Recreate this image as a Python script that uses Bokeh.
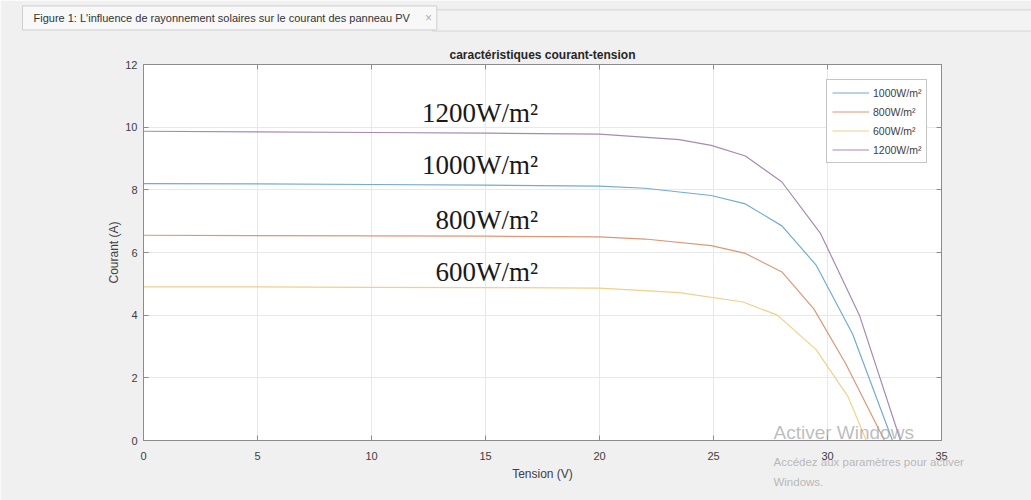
from bokeh.plotting import figure
from bokeh.models import Range1d, LinearAxis, Label
from bokeh.embed import file_html
from bokeh.resources import INLINE

# ---- data ----
series_labels = ["1000W/m²", "800W/m²", "600W/m²", "1200W/m²"]

v_1000 = [0, 5, 10, 15, 20, 22, 24.9, 26.4, 28.0, 29.5, 31.1, 32.85]
i_1000 = [8.20, 8.19, 8.17, 8.15, 8.12, 8.05, 7.82, 7.55, 6.85, 5.60, 3.40, 0.0]

v_800 = [0, 5, 10, 15, 20, 22, 24.9, 26.4, 28.0, 29.4, 30.8, 32.5]
i_800 = [6.55, 6.54, 6.53, 6.52, 6.50, 6.43, 6.22, 5.97, 5.38, 4.20, 2.45, 0.0]

v_600 = [0, 5, 10, 15, 20, 23.5, 26.3, 27.8, 29.5, 30.9, 31.7]
i_600 = [4.90, 4.90, 4.89, 4.88, 4.86, 4.72, 4.42, 4.00, 2.90, 1.40, 0.0]

v_1200 = [0, 5, 10, 15, 20, 23.5, 24.9, 26.4, 28.0, 29.7, 31.4, 33.2]
i_1200 = [9.87, 9.85, 9.83, 9.81, 9.78, 9.60, 9.42, 9.08, 8.25, 6.60, 4.00, 0.0]

x_ticks = [0, 5, 10, 15, 20, 25, 30, 35]
y_ticks = [0, 2, 4, 6, 8, 10, 12]

colors = ["#72acd0", "#dc9878", "#f0d08a", "#a58bb1"]

p = figure(width=1031, height=500, x_range=Range1d(0, 35), y_range=Range1d(0, 12),
           output_backend="svg", toolbar_location=None,
           min_border_left=143, min_border_right=90, min_border_top=64, min_border_bottom=60,
           background_fill_color="white", border_fill_color="#f0f0f0")

p.outline_line_color = "#8c8c8c"
p.outline_line_width = 1

# axes
for ax in (p.xaxis[0], p.yaxis[0]):
    ax.axis_line_color = "#8c8c8c"
    ax.major_tick_line_color = "#8c8c8c"
    ax.major_tick_in = 5
    ax.major_tick_out = 0
    ax.minor_tick_line_color = None
    ax.major_label_text_font = "Liberation Sans"
    ax.major_label_text_font_size = "11px"
    ax.major_label_text_color = "#404040"
    ax.axis_label_text_font = "Liberation Sans"
    ax.axis_label_text_font_size = "12px"
    ax.axis_label_text_font_style = "normal"
    ax.axis_label_text_color = "#404040"

p.xaxis[0].ticker = x_ticks
p.yaxis[0].ticker = y_ticks
p.xaxis[0].axis_label = "Tension (V)"
p.yaxis[0].axis_label = "Courant (A)"
p.xaxis[0].major_label_standoff = 11
p.xaxis[0].axis_label_standoff = 4
p.yaxis[0].major_label_standoff = 6
p.yaxis[0].axis_label_standoff = 1

for side in ("right", "above"):
    ax = LinearAxis(ticker=(y_ticks if side == "right" else x_ticks))
    ax.axis_line_color = "#8c8c8c"
    ax.major_tick_line_color = "#8c8c8c"
    ax.major_tick_in = 5
    ax.major_tick_out = 0
    ax.minor_tick_line_color = None
    ax.major_label_text_font_size = "0px"
    ax.major_label_text_alpha = 0
    ax.major_label_standoff = 0
    p.add_layout(ax, side)

p.xgrid.ticker = x_ticks
p.ygrid.ticker = y_ticks
p.xgrid.grid_line_color = "#e8e8e8"
p.ygrid.grid_line_color = "#e8e8e8"

# curves
data = [(v_1000, i_1000), (v_800, i_800), (v_600, i_600), (v_1200, i_1200)]
for (vx, iy), lab, c in zip(data, series_labels, colors):
    p.line(vx, iy, line_color=c, line_width=1.2, legend_label=lab)

leg = p.legend[0]
leg.location = (683, 277)
leg.label_text_font = "Liberation Sans"
leg.label_text_font_size = "10.5px"
leg.label_text_color = "#404040"
leg.glyph_width = 37
leg.glyph_height = 15
leg.spacing = 4
leg.padding = 5
leg.label_standoff = 4
leg.label_height = 15
leg.border_line_color = "#8c8c8c"
leg.border_line_width = 1
leg.background_fill_color = "white"
leg.margin = 0

# inline irradiance labels
inline = [("1200W/m²", 12.22, 10.46), ("1000W/m²", 12.22, 8.78),
          ("800W/m²", 12.81, 7.05), ("600W/m²", 12.81, 5.39)]
for t, x, y in inline:
    p.add_layout(Label(x=x, y=y, text=t, text_font="Liberation Serif", text_font_size="27px",
                       text_color="#1a1a1a", text_baseline="middle", text_align="left"))

# title (placed in the top panel so it is not clipped to the frame)
p.add_layout(Label(x=17.5, y=12.29, text="caractéristiques courant-tension",
                   text_font="Liberation Sans", text_font_size="12px", text_font_style="bold",
                   text_color="#262626", text_align="center", text_baseline="middle"), "above")

# window tab strip and tab
p.add_layout(Label(x=12.675, y=13.405, text=" ", text_font="Liberation Sans", text_font_size="1px",
                   text_baseline="middle", text_align="left",
                   background_fill_color="#f3f3f3", border_line_color="#d4d4d4",
                   padding=(0, 610, 10, 10)), "above")
p.add_layout(Label(x=-5.307, y=13.485, text="Figure 1: L'influence de rayonnement solaires sur le courant des panneau PV",
                   text_font="Liberation Sans", text_font_size="11px", text_color="#333333",
                   text_baseline="middle", text_align="left",
                   background_fill_color="#f8f8f8", border_line_color="#cfcfcf",
                   padding=(11, 27, 6, 6)), "above")
p.add_layout(Label(x=12.5, y=13.485, text="×", text_font="Liberation Sans", text_font_size="12px",
                   text_color="#b0b0b0", text_baseline="middle", text_align="center"), "left")

# windows watermark
p.add_layout(Label(x=27.63, y=0.255, text="Activer Windows", text_font="Liberation Sans",
                   text_font_size="19px", text_color="#a8a8a8", text_alpha=0.75,
                   text_baseline="middle", text_align="left"))
p.add_layout(Label(x=27.63, y=-0.70, text="Accédez aux paramètres pour activer", text_font="Liberation Sans",
                   text_font_size="11.5px", text_color="#a8a8a8", text_alpha=0.8,
                   text_baseline="middle", text_align="left"), "below")
p.add_layout(Label(x=27.63, y=-1.31, text="Windows.", text_font="Liberation Sans",
                   text_font_size="11.5px", text_color="#a8a8a8", text_alpha=0.8,
                   text_baseline="middle", text_align="left"), "right")

open("out.html", "w").write(file_html(p, INLINE))
